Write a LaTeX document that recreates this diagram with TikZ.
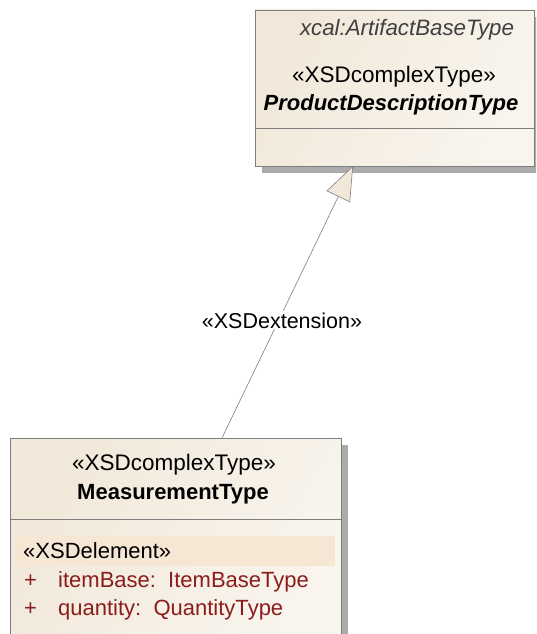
\documentclass[tikz,border=0pt]{standalone}
\usepackage{fontspec}
\setmainfont{Liberation Sans}
\usetikzlibrary{arrows.meta}
\definecolor{boxfill}{HTML}{F1E8D9}
\definecolor{boxlight}{HTML}{F9F5EE}
\definecolor{boxline}{HTML}{7E7E7E}
\definecolor{shadowgray}{HTML}{ABABAB}
\definecolor{bandfill}{HTML}{F5E7D3}
\definecolor{attrred}{HTML}{8C1C1C}
\tikzset{
  classbox/.style={draw=boxline, line width=0.8pt, left color=boxfill, right color=boxlight, shading angle=60},
  boxshadow/.style={fill=shadowgray},
  divider/.style={draw=boxline, line width=0.8pt},
  lbl/.style={inner sep=0pt, anchor=base, font=\fontsize{22}{26}\selectfont},
  stereo/.style={lbl, font=\fontsize{22.5}{26}\selectfont},
  attr/.style={lbl, anchor=base west, text=attrred},
  ext/.style={draw=boxline, line width=0.6pt, -{Triangle[open, length=34pt, width=26pt, fill=boxfill]}}
}
\begin{document}
\begin{tikzpicture}[x=1pt, y=-1pt]
\useasboundingbox (0,0) rectangle (536,634);
\clip (0,0) rectangle (536,634);
\fill[white] (0,0) rectangle (536,634);

% ProductDescriptionType class
\fill[boxshadow] (262,17) rectangle (541,173);
\node[classbox, minimum width=279pt, minimum height=156pt, inner sep=0pt] (pd) at (394.5,88) {};
\draw[divider] (255,128) -- (534,128);
\node[lbl, font=\fontsize{22.3}{26}\selectfont\itshape, text=black!75] (pdns) at (407,36) {xcal:ArtifactBaseType};
\node[stereo] (pdst) at (394,82) {«XSDcomplexType»};
\node[lbl, font=\fontsize{22}{26}\selectfont\bfseries\itshape] (pdname) at (391,110) {ProductDescriptionType};

% MeasurementType class
\fill[boxshadow] (17,445) rectangle (348,660);
\node[classbox, minimum width=331pt, minimum height=212pt, inner sep=0pt] (mt) at (175.5,544) {};
\draw[divider] (10,519) -- (341,519);
\node[stereo] (mtst) at (174,470) {«XSDcomplexType»};
\node[lbl, font=\fontsize{22}{26}\selectfont\bfseries] (mtname) at (173,499) {MeasurementType};
\fill[bandfill] (16,536) rectangle (335,566);
\node[lbl, anchor=base west] (el) at (23,558) {«XSDelement»};
\node[attr] (p1) at (24,587) {+};
\node[attr] (a1) at (58,587) {itemBase:\ \ ItemBaseType};
\node[attr] (p2) at (24,615) {+};
\node[attr] (a2) at (58,615) {quantity:\ \ QuantityType};

% XSD extension (generalisation)
\coordinate (mt-top) at (222,438);
\coordinate (pd-bot) at (353,166);
\draw[ext] (mt-top) -- (pd-bot);
\node[lbl, fill=white, inner sep=1pt, font=\fontsize{21.5}{26}\selectfont] (extlbl) at (282,328) {«XSDextension»};
\end{tikzpicture}
\end{document}
